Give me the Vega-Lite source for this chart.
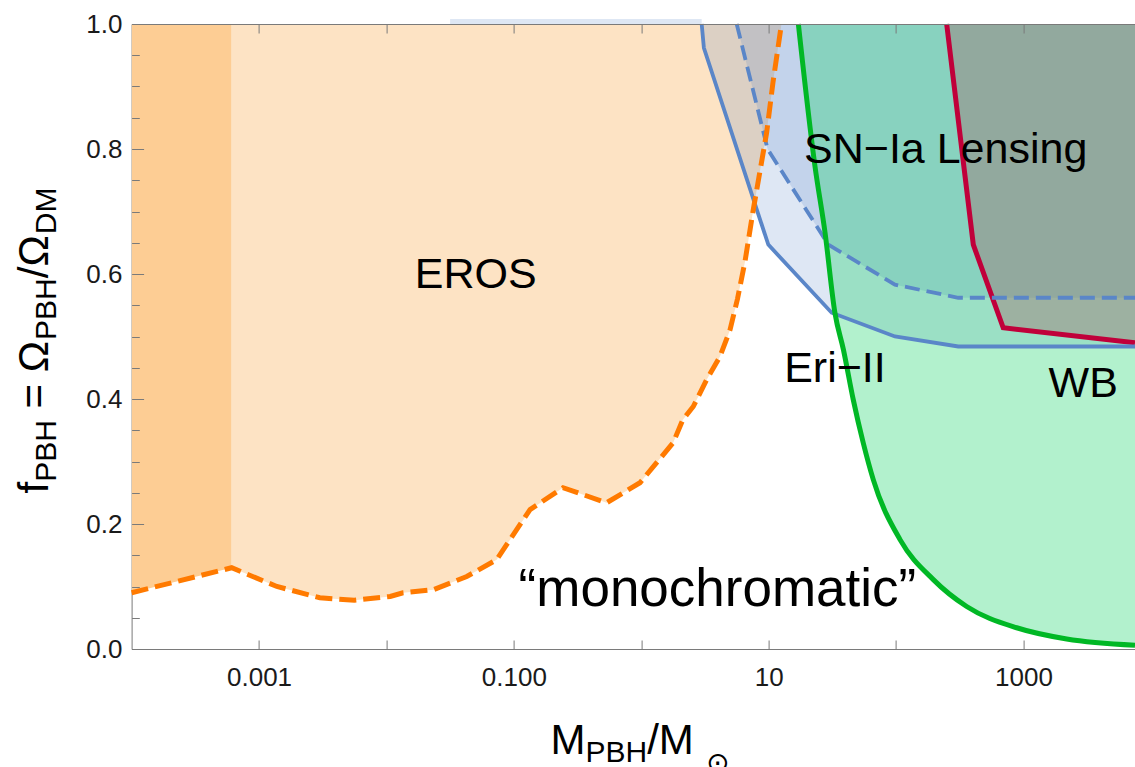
{
  "$schema": "https://vega.github.io/schema/vega-lite/v6.json",
  "autosize": {"type": "none"},
  "padding": {"left": 131.6, "top": 24, "right": 0, "bottom": 118},
  "width": 1003.4,
  "height": 625,
  "background": "white",
  "config": {
    "view": {"stroke": null},
    "axis": {
      "grid": false,
      "labelFont": "Liberation Sans",
      "labelColor": "#1a1a1a",
      "titleFont": "Liberation Sans",
      "titleFontWeight": "normal",
      "titleColor": "#000000",
      "domainColor": "#7a7a7a",
      "tickColor": "#7a7a7a",
      "tickWidth": 1,
      "domainWidth": 1
    }
  },
  "datasets": {
    "eros": [
      {"m": 0.0001, "f": 0.09},
      {"m": 0.00061, "f": 0.13},
      {"m": 0.00138, "f": 0.10},
      {"m": 0.0030, "f": 0.082},
      {"m": 0.0056, "f": 0.078},
      {"m": 0.0107, "f": 0.084},
      {"m": 0.0135, "f": 0.09},
      {"m": 0.0234, "f": 0.095},
      {"m": 0.0427, "f": 0.116},
      {"m": 0.0733, "f": 0.143},
      {"m": 0.0933, "f": 0.175},
      {"m": 0.134, "f": 0.223},
      {"m": 0.243, "f": 0.258},
      {"m": 0.535, "f": 0.234},
      {"m": 0.977, "f": 0.266},
      {"m": 1.78, "f": 0.33},
      {"m": 2.12, "f": 0.367},
      {"m": 2.56, "f": 0.388},
      {"m": 3.26, "f": 0.431},
      {"m": 4.15, "f": 0.468},
      {"m": 4.98, "f": 0.511},
      {"m": 5.69, "f": 0.56},
      {"m": 6.52, "f": 0.62},
      {"m": 7.53, "f": 0.70},
      {"m": 9.64, "f": 0.826},
      {"m": 10.8, "f": 0.906},
      {"m": 12.6, "f": 1.0}
    ],
    "eri_edge": [
      {"m": 0.0316, "f": 1.0},
      {"m": 2.98, "f": 1.0}
    ],
    "eri": [
      {"m": 2.98, "f": 1.0},
      {"m": 3.10, "f": 0.962},
      {"m": 9.93, "f": 0.647},
      {"m": 31.2, "f": 0.538},
      {"m": 97.9, "f": 0.50},
      {"m": 307.6, "f": 0.484},
      {"m": 7500, "f": 0.484}
    ],
    "eri_dashed": [
      {"m": 5.61, "f": 1.0},
      {"m": 9.8, "f": 0.80},
      {"m": 29.4, "f": 0.647},
      {"m": 97.9, "f": 0.583},
      {"m": 307.6, "f": 0.562},
      {"m": 7500, "f": 0.562}
    ],
    "snia": [
      {"m": 17.1, "f": 1.0},
      {"m": 23.1, "f": 0.772},
      {"m": 27.7, "f": 0.666},
      {"m": 33.1, "f": 0.538},
      {"m": 38.6, "f": 0.479},
      {"m": 46.1, "f": 0.399},
      {"m": 55.2, "f": 0.33},
      {"m": 66.2, "f": 0.271},
      {"m": 107.4, "f": 0.175},
      {"m": 196, "f": 0.111},
      {"m": 358, "f": 0.068},
      {"m": 883, "f": 0.034},
      {"m": 2183, "f": 0.016},
      {"m": 7500, "f": 0.006}
    ],
    "wb": [
      {"m": 249.5, "f": 1.0},
      {"m": 403.6, "f": 0.647},
      {"m": 693, "f": 0.514},
      {"m": 7500, "f": 0.49}
    ],
    "labels": [
      {"m": 0.0502, "f": 0.5776, "label": "EROS"},
      {"m": 245, "f": 0.778, "label": "SN−Ia Lensing"},
      {"m": 33.1, "f": 0.428, "label": "Eri−II"},
      {"m": 2944, "f": 0.404, "label": "WB"}
    ],
    "note": [
      {"m": 3.96, "f": 0.0682, "label": "“monochromatic”"}
    ]
  },
  "layer": [
    {
      "data": {"name": "eros"},
      "transform": [{"filter": "datum.m <= 0.00061"}],
      "mark": {"type": "area", "color": "#fdcd94", "opacity": 1, "clip": true},
      "encoding": {
        "x": {
          "field": "m", "type": "quantitative",
          "scale": {"type": "log", "domain": [0.0001, 7500], "nice": false},
          "axis": {
            "orient": "bottom",
            "values": [0.0001, 0.001, 0.01, 0.1, 1, 10, 100, 1000],
            "labelExpr": "datum.value == 0.001 ? '0.001' : datum.value == 0.1 ? '0.100' : datum.value == 10 ? '10' : datum.value == 1000 ? '1000' : ''",
            "ticks": false, "domain": true,
            "labelFontSize": 26, "labelBaseline": "alphabetic", "labelPadding": 36,
            "labelFlush": false, "labelOverlap": false,
            "title": "M", "titleFontSize": 42, "titleAngle": 0,
            "titleAlign": "left", "titleBaseline": "alphabetic",
            "titleX": 418.4, "titleY": 104
          }
        },
        "y": {
          "field": "f", "type": "quantitative",
          "scale": {"domain": [0, 1], "nice": false, "zero": false},
          "axis": {
            "orient": "left",
            "values": [0, 0.2, 0.4, 0.6, 0.8, 1],
            "format": ".1f",
            "ticks": false, "domain": true,
            "labelFontSize": 26, "labelPadding": 9.6, "labelFlush": false,
            "title": "f", "titleFontSize": 42, "titleAngle": 270,
            "titleAlign": "left", "titleBaseline": "alphabetic",
            "titleX": -84.6, "titleY": 469
          }
        },
        "y2": {"datum": 1}
      }
    },
    {
      "data": {"name": "eros"},
      "transform": [{"filter": "datum.m >= 0.00061"}],
      "mark": {"type": "area", "color": "#fde3c4", "opacity": 1, "clip": true},
      "encoding": {
        "x": {
          "field": "m", "type": "quantitative",
          "scale": {"type": "log", "domain": [0.0001, 7500], "nice": false},
          "axis": {
            "orient": "bottom",
            "values": [0.001, 0.01, 0.1, 1, 10, 100, 1000],
            "labels": false, "domain": false, "ticks": true, "tickSize": -9,
            "zindex": 1,
            "title": "PBH", "titleFontSize": 30, "titleAngle": 0,
            "titleAlign": "left", "titleBaseline": "alphabetic",
            "titleX": 453.4, "titleY": 112.4
          }
        },
        "y": {
          "field": "f", "type": "quantitative",
          "scale": {"domain": [0, 1], "nice": false, "zero": false},
          "axis": {
            "orient": "left",
            "values": [0, 0.2, 0.4, 0.6, 0.8, 1],
            "labels": false, "domain": false, "ticks": true, "tickSize": -12,
            "zindex": 1,
            "title": "PBH", "titleFontSize": 30, "titleAngle": 270,
            "titleAlign": "left", "titleBaseline": "alphabetic",
            "titleX": -76.2, "titleY": 457.3
          }
        },
        "y2": {"datum": 1}
      }
    },
    {
      "data": {"name": "eri_edge"},
      "mark": {"type": "area", "color": "#5a86c8", "opacity": 0.2, "clip": false},
      "encoding": {
        "x": {
          "field": "m", "type": "quantitative",
          "scale": {"type": "log", "domain": [0.0001, 7500], "nice": false},
          "axis": {
            "orient": "bottom",
            "labels": false, "domain": false, "ticks": false,
            "title": "/M", "titleFontSize": 42, "titleAngle": 0,
            "titleAlign": "left", "titleBaseline": "alphabetic",
            "titleX": 515.1, "titleY": 104
          }
        },
        "y": {
          "field": "f", "type": "quantitative",
          "scale": {"domain": [0, 1], "nice": false, "zero": false},
          "axis": {
            "orient": "left",
            "values": [0.05, 0.1, 0.15, 0.25, 0.3, 0.35, 0.45, 0.5, 0.55, 0.65, 0.7, 0.75, 0.85, 0.9, 0.95],
            "labels": false, "domain": false, "ticks": true, "tickSize": -7.7,
            "zindex": 1,
            "title": "= Ω", "titleFontSize": 42, "titleAngle": 270,
            "titleAlign": "left", "titleBaseline": "alphabetic",
            "titleX": -84.6, "titleY": 383.9
          }
        },
        "y2": {"datum": 1.008}
      }
    },
    {
      "data": {"name": "eri"},
      "mark": {"type": "area", "color": "#5a86c8", "opacity": 0.2, "clip": true},
      "encoding": {
        "x": {
          "field": "m", "type": "quantitative",
          "scale": {"type": "log", "domain": [0.0001, 7500], "nice": false},
          "axis": {
            "orient": "bottom",
            "labels": false, "domain": false, "ticks": false,
            "title": "⊙", "titleFont": "DejaVu Sans", "titleFontSize": 28, "titleAngle": 0,
            "titleAlign": "left", "titleBaseline": "alphabetic",
            "titleX": 574, "titleY": 122
          }
        },
        "y": {
          "field": "f", "type": "quantitative",
          "scale": {"domain": [0, 1], "nice": false, "zero": false},
          "axis": {
            "orient": "left",
            "labels": false, "domain": false, "ticks": false,
            "title": "PBH", "titleFontSize": 30, "titleAngle": 270,
            "titleAlign": "left", "titleBaseline": "alphabetic",
            "titleX": -76.2, "titleY": 315.4
          }
        },
        "y2": {"datum": 1}
      }
    },
    {
      "data": {"name": "eri_dashed"},
      "mark": {"type": "area", "color": "#5a86c8", "opacity": 0.2, "clip": true},
      "encoding": {
        "x": {
          "field": "m", "type": "quantitative",
          "scale": {"type": "log", "domain": [0.0001, 7500], "nice": false},
          "axis": {
            "orient": "top",
            "values": [0.001, 0.01, 0.1, 1, 10, 100, 1000],
            "labels": false, "domain": true, "ticks": true, "tickSize": -9,
            "zindex": 1, "title": null
          }
        },
        "y": {
          "field": "f", "type": "quantitative",
          "scale": {"domain": [0, 1], "nice": false, "zero": false},
          "axis": {
            "orient": "left",
            "labels": false, "domain": false, "ticks": false,
            "title": "/Ω", "titleFontSize": 42, "titleAngle": 270,
            "titleAlign": "left", "titleBaseline": "alphabetic",
            "titleX": -84.6, "titleY": 253.7
          }
        },
        "y2": {"datum": 1}
      }
    },
    {
      "data": {"name": "snia"},
      "mark": {"type": "area", "color": "#00d25a", "opacity": 0.3, "clip": true, "interpolate": "monotone"},
      "encoding": {
        "x": {
          "field": "m", "type": "quantitative",
          "scale": {"type": "log", "domain": [0.0001, 7500], "nice": false},
          "axis": null
        },
        "y": {
          "field": "f", "type": "quantitative",
          "scale": {"domain": [0, 1], "nice": false, "zero": false},
          "axis": {
            "orient": "left",
            "labels": false, "domain": false, "ticks": false,
            "title": "DM", "titleFontSize": 30, "titleAngle": 270,
            "titleAlign": "left", "titleBaseline": "alphabetic",
            "titleX": -76.2, "titleY": 209.7
          }
        },
        "y2": {"datum": 1}
      }
    },
    {
      "data": {"name": "wb"},
      "mark": {"type": "area", "color": "#a07070", "opacity": 0.42, "clip": true},
      "encoding": {
        "x": {"field": "m", "type": "quantitative", "scale": {"type": "log", "domain": [0.0001, 7500], "nice": false}, "axis": null},
        "y": {"field": "f", "type": "quantitative", "scale": {"domain": [0, 1], "nice": false, "zero": false}, "axis": null},
        "y2": {"datum": 1}
      }
    },
    {
      "data": {"name": "wb"},
      "mark": {"type": "line", "color": "#c0003a", "strokeWidth": 5},
      "encoding": {
        "x": {"field": "m", "type": "quantitative", "scale": {"type": "log", "domain": [0.0001, 7500], "nice": false}, "axis": null},
        "y": {"field": "f", "type": "quantitative", "scale": {"domain": [0, 1], "nice": false, "zero": false}, "axis": null}
      }
    },
    {
      "data": {"name": "eri"},
      "mark": {"type": "line", "color": "#5a86c8", "strokeWidth": 3.8},
      "encoding": {
        "x": {"field": "m", "type": "quantitative", "scale": {"type": "log", "domain": [0.0001, 7500], "nice": false}, "axis": null},
        "y": {"field": "f", "type": "quantitative", "scale": {"domain": [0, 1], "nice": false, "zero": false}, "axis": null}
      }
    },
    {
      "data": {"name": "eri_dashed"},
      "mark": {"type": "line", "color": "#5a86c8", "strokeWidth": 3.8, "strokeDash": [15, 7]},
      "encoding": {
        "x": {"field": "m", "type": "quantitative", "scale": {"type": "log", "domain": [0.0001, 7500], "nice": false}, "axis": null},
        "y": {"field": "f", "type": "quantitative", "scale": {"domain": [0, 1], "nice": false, "zero": false}, "axis": null}
      }
    },
    {
      "data": {"name": "snia"},
      "mark": {"type": "line", "color": "#00b825", "strokeWidth": 5, "interpolate": "monotone"},
      "encoding": {
        "x": {"field": "m", "type": "quantitative", "scale": {"type": "log", "domain": [0.0001, 7500], "nice": false}, "axis": null},
        "y": {"field": "f", "type": "quantitative", "scale": {"domain": [0, 1], "nice": false, "zero": false}, "axis": null}
      }
    },
    {
      "data": {"name": "eros"},
      "mark": {"type": "line", "color": "#ff7a00", "strokeWidth": 5, "strokeDash": [17, 7]},
      "encoding": {
        "x": {"field": "m", "type": "quantitative", "scale": {"type": "log", "domain": [0.0001, 7500], "nice": false}, "axis": null},
        "y": {"field": "f", "type": "quantitative", "scale": {"domain": [0, 1], "nice": false, "zero": false}, "axis": null}
      }
    },
    {
      "data": {"name": "labels"},
      "mark": {"type": "text", "font": "Liberation Sans", "fontSize": 43, "align": "center", "baseline": "alphabetic", "color": "#000000"},
      "encoding": {
        "x": {"field": "m", "type": "quantitative", "scale": {"type": "log", "domain": [0.0001, 7500], "nice": false}, "axis": null},
        "y": {"field": "f", "type": "quantitative", "scale": {"domain": [0, 1], "nice": false, "zero": false}, "axis": null},
        "text": {"field": "label"}
      }
    },
    {
      "data": {"name": "note"},
      "mark": {"type": "text", "font": "Liberation Sans", "fontSize": 53, "align": "center", "baseline": "alphabetic", "color": "#000000"},
      "encoding": {
        "x": {"field": "m", "type": "quantitative", "scale": {"type": "log", "domain": [0.0001, 7500], "nice": false}, "axis": null},
        "y": {"field": "f", "type": "quantitative", "scale": {"domain": [0, 1], "nice": false, "zero": false}, "axis": null},
        "text": {"field": "label"}
      }
    }
  ],
  "resolve": {"axis": {"x": "independent", "y": "independent"}}
}
